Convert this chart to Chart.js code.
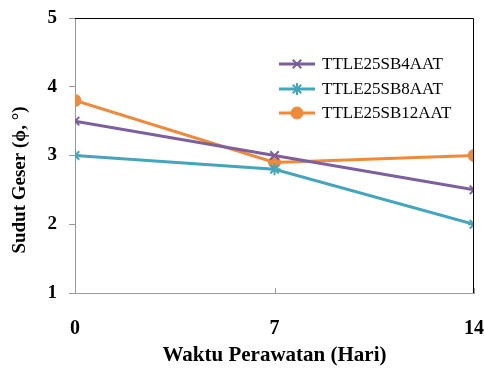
<!DOCTYPE html>
<html>
<head>
<meta charset="utf-8">
<script src="https://cdn.jsdelivr.net/npm/chart.js@4"></script>
<style>
  html, body { margin: 0; padding: 0; background: #fff; }
  #wrap { width: 484px; height: 372px; }
</style>
</head>
<body>
<div id="wrap"><canvas id="myChart" width="484" height="372"></canvas></div>
<script>
const days = [0, 7, 14];
const sb4 = [3.5, 3.0, 2.5];
const sb8 = [3.0, 2.8, 2.0];
const sb12 = [3.8, 2.9, 3.0];
const seriesNames = ['TTLE25SB4AAT', 'TTLE25SB8AAT', 'TTLE25SB12AAT'];
const yTicks = [1, 2, 3, 4, 5];
const yTitle = 'Sudut Geser (\u03d5, \u00b0)';

const colors = ['#7d5f9e', '#44a6bc', '#ee8a3a'];
const markers = ['crossRot', 'star', 'circle'];

function points(vals) {
    return days.map((d, i) => ({ x: d, y: vals[i] }));
}

// frame on top/right, inward x ticks, y title and a line+marker legend
const framePlugin = {
    id: 'frame',
    afterDraw(chart) {
        const { ctx, chartArea: a, scales } = chart;
        ctx.save();
        ctx.strokeStyle = '#000';
        ctx.lineWidth = 1;
        ctx.beginPath();
        ctx.moveTo(a.left, a.top + 0.5);
        ctx.lineTo(a.right - 0.5, a.top + 0.5);
        ctx.lineTo(a.right - 0.5, a.bottom);
        ctx.stroke();

        ctx.strokeStyle = '#999';
        days.forEach(d => {
            const x = Math.round(scales.x.getPixelForValue(d)) + 0.5;
            ctx.beginPath();
            ctx.moveTo(x, a.bottom);
            ctx.lineTo(x, a.bottom - 5);
            ctx.stroke();
        });

        ctx.save();
        ctx.translate(20, 180);
        ctx.rotate(-Math.PI / 2);
        ctx.font = 'bold 19px "Liberation Serif"';
        ctx.fillStyle = '#000';
        ctx.textAlign = 'center';
        ctx.textBaseline = 'middle';
        ctx.fillText(yTitle, 0, 0);
        ctx.restore();

        const rows = [64, 89, 113];
        ctx.font = '17px "Liberation Serif"';
        ctx.textBaseline = 'middle';
        chart.data.datasets.forEach((ds, i) => {
            const y = rows[i];
            ctx.strokeStyle = ds.borderColor;
            ctx.fillStyle = ds.backgroundColor;
            ctx.lineWidth = 3;
            ctx.beginPath();
            ctx.moveTo(279, y);
            ctx.lineTo(315, y);
            ctx.stroke();
            ctx.lineWidth = ds.pointBorderWidth;
            Chart.helpers.drawPoint(ctx, {
                pointStyle: ds.pointStyle,
                radius: ds.pointRadius,
                borderWidth: ds.pointBorderWidth
            }, 297, y);
            ctx.fillStyle = '#000';
            ctx.fillText(ds.label, 322, y + 1);
        });
        ctx.restore();
    }
};

function initChart() {
    const ctx = document.getElementById('myChart').getContext('2d');
    const datasets = [sb4, sb8, sb12].map((vals, i) => ({
        label: seriesNames[i],
        data: points(vals),
        borderColor: colors[i],
        backgroundColor: colors[i],
        borderWidth: 3,
        pointStyle: markers[i],
        pointRadius: 6,
        pointBorderWidth: markers[i] === 'circle' ? 1 : 2,
        tension: 0
    }));

    new Chart(ctx, {
        type: 'line',
        data: { datasets: datasets },
        options: {
            responsive: false,
            animation: false,
            layout: { padding: { top: 18, right: 10, left: 0, bottom: 0 } },
            plugins: {
                legend: { display: false },
                tooltip: { enabled: false }
            },
            scales: {
                x: {
                    type: 'linear',
                    min: 0,
                    max: 14,
                    afterBuildTicks: s => { s.ticks = days.map(v => ({ value: v })); },
                    grid: { display: false },
                    border: { color: '#999', width: 1 },
                    ticks: {
                        color: '#000',
                        padding: 16,
                        font: { family: 'Liberation Serif', size: 20, weight: 'bold' }
                    },
                    title: {
                        display: true,
                        text: 'Waktu Perawatan (Hari)',
                        color: '#000',
                        padding: { top: 2, bottom: 4 },
                        font: { family: 'Liberation Serif', size: 21, weight: 'bold' }
                    },
                    afterFit: s => {
                        s.height = 79;
                        s.paddingLeft = 0;
                        s.paddingRight = 0;
                    }
                },
                y: {
                    min: 1,
                    max: 5,
                    afterBuildTicks: s => { s.ticks = yTicks.map(v => ({ value: v })); },
                    grid: {
                        drawOnChartArea: false,
                        drawTicks: true,
                        tickLength: 6,
                        color: '#999'
                    },
                    border: { color: '#999', width: 1 },
                    ticks: {
                        color: '#000',
                        padding: 12,
                        font: { family: 'Liberation Serif', size: 19, weight: 'bold' }
                    },
                    afterFit: s => {
                        s.width = 75;
                        s.paddingTop = 0;
                        s.paddingBottom = 0;
                    }
                }
            }
        },
        plugins: [framePlugin]
    });
}

initChart();
</script>
</body>
</html>
